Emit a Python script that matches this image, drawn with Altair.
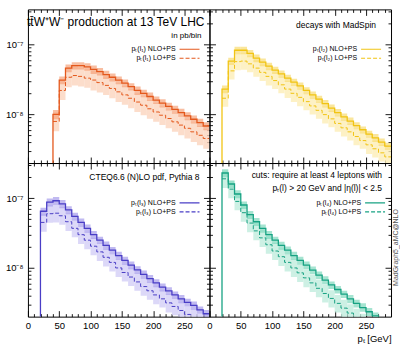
import altair as alt
import pandas as pd

# ---------------- data (values in units of 1e-8 pb/bin) ----------------
UNIT = 1e-8
BIN_WIDTH = 10
X_MAX = 290
Y_DOMAIN = [2.0e-9, 3.2e-7]

X_MAJOR = [0, 50, 100, 150, 200, 250]
X_MINOR = [10, 20, 30, 40, 60, 70, 80, 90, 110, 120, 130, 140, 160, 170, 180, 190,
           210, 220, 230, 240, 260, 270, 280]
Y_MAJOR = [1e-8, 1e-7]
Y_MINOR = [3e-9, 4e-9, 5e-9, 6e-9, 7e-9, 8e-9, 9e-9,
           2e-8, 3e-8, 4e-8, 5e-8, 6e-8, 7e-8, 8e-8, 9e-8, 2e-7, 3e-7]

# top-left: pT(l1), starts at 40 GeV
TL_START = 40
TL_NLO = [1.0, 3.1, 4.6, 5.0, 5.0, 4.8, 4.4, 4.1, 3.7, 3.4, 3.1, 2.8, 2.5, 2.2, 2.0, 1.8,
          1.6, 1.45, 1.3, 1.18, 1.06, 0.95, 0.85, 0.76, 0.68]
TL_NLO_LO = [0.85, 2.7, 4.0, 4.4, 4.4, 4.2, 3.8, 3.6, 3.2, 2.95, 2.7, 2.45, 2.2, 1.9, 1.75,
             1.55, 1.4, 1.25, 1.13, 1.02, 0.92, 0.82, 0.74, 0.66, 0.59]
TL_NLO_HI = [1.15, 3.5, 5.2, 5.6, 5.6, 5.4, 5.0, 4.6, 4.2, 3.85, 3.5, 3.15, 2.8, 2.5, 2.25,
             2.05, 1.8, 1.65, 1.47, 1.33, 1.2, 1.07, 0.96, 0.86, 0.77]
TL_LO = [0.79, 2.2, 3.4, 3.6, 3.5, 3.3, 3.1, 2.85, 2.6, 2.35, 2.1, 1.9, 1.7, 1.5, 1.35, 1.2,
         1.08, 0.97, 0.87, 0.78, 0.70, 0.63, 0.56, 0.50, 0.45]
TL_LO_LO = [0.57, 1.6, 2.45, 2.6, 2.5, 2.4, 2.2, 2.05, 1.9, 1.7, 1.5, 1.37, 1.22, 1.08, 0.97,
            0.86, 0.78, 0.70, 0.63, 0.56, 0.50, 0.45, 0.40, 0.36, 0.32]
TL_LO_HI = [1.07, 3.0, 4.6, 4.9, 4.7, 4.45, 4.2, 3.85, 3.5, 3.2, 2.85, 2.55, 2.3, 2.0, 1.8,
            1.6, 1.45, 1.3, 1.17, 1.05, 0.95, 0.85, 0.76, 0.68, 0.61]

# top-right: pT(l2), starts at 20 GeV
TR_START = 20
TR_NLO = [2.3, 5.8, 8.3, 8.3, 7.5, 6.4, 5.6, 4.9, 4.3, 3.8, 3.3, 2.9, 2.55, 2.2, 1.9, 1.65,
          1.42, 1.23, 1.06, 0.92, 0.80, 0.69, 0.60, 0.52, 0.46, 0.40, 0.35]
TR_NLO_LO = [2.0, 5.1, 7.3, 7.3, 6.6, 5.6, 4.9, 4.3, 3.8, 3.35, 2.9, 2.55, 2.25, 1.94, 1.67,
             1.45, 1.25, 1.08, 0.93, 0.81, 0.70, 0.61, 0.53, 0.46, 0.40, 0.35, 0.31]
TR_NLO_HI = [2.6, 6.5, 9.3, 9.3, 8.4, 7.2, 6.3, 5.5, 4.8, 4.25, 3.7, 3.25, 2.85, 2.45, 2.13,
             1.85, 1.6, 1.38, 1.19, 1.03, 0.90, 0.77, 0.67, 0.58, 0.52, 0.45, 0.39]
TR_LO = [1.7, 4.2, 5.7, 5.8, 5.3, 4.6, 4.0, 3.5, 3.05, 2.65, 2.3, 2.0, 1.75, 1.52, 1.32, 1.14,
         0.99, 0.86, 0.74, 0.64, 0.56, 0.48, 0.42, 0.365, 0.32, 0.28, 0.245]
TR_LO_LO = [1.28, 3.15, 4.3, 4.35, 4.0, 3.45, 3.0, 2.6, 2.3, 2.0, 1.72, 1.5, 1.31, 1.14, 0.99,
            0.86, 0.74, 0.65, 0.56, 0.48, 0.42, 0.36, 0.32, 0.27, 0.24, 0.21, 0.18]
TR_LO_HI = [2.2, 5.5, 7.4, 7.5, 6.9, 6.0, 5.2, 4.55, 4.0, 3.45, 3.0, 2.6, 2.28, 1.98, 1.72,
            1.48, 1.29, 1.12, 0.96, 0.83, 0.73, 0.62, 0.55, 0.47, 0.42, 0.36, 0.32]

# bottom-left: pT(l3), starts at 20 GeV
BL_START = 20
BL_NLO = [6.5, 8.8, 9.2, 8.3, 6.8, 5.5, 4.5, 3.7, 3.0, 2.5, 2.1, 1.8, 1.5, 1.28, 1.1, 0.94,
          0.81, 0.70, 0.61, 0.53, 0.47, 0.41, 0.36, 0.32, 0.29, 0.25, 0.22]
BL_NLO_LO = [5.6, 7.6, 8.0, 7.2, 5.9, 4.8, 3.9, 3.2, 2.6, 2.2, 1.83, 1.57, 1.3, 1.11, 0.96,
             0.82, 0.70, 0.61, 0.53, 0.46, 0.41, 0.36, 0.31, 0.28, 0.25, 0.22, 0.19]
BL_NLO_HI = [7.3, 9.9, 10.4, 9.4, 7.7, 6.2, 5.1, 4.2, 3.4, 2.8, 2.4, 2.0, 1.7, 1.45, 1.24,
             1.06, 0.92, 0.79, 0.69, 0.60, 0.53, 0.46, 0.41, 0.36, 0.33, 0.28, 0.25]
BL_LO = [4.5, 6.0, 6.1, 5.6, 4.6, 3.7, 3.0, 2.5, 2.05, 1.7, 1.42, 1.2, 1.0, 0.86, 0.74, 0.63,
         0.54, 0.47, 0.41, 0.36, 0.315, 0.28, 0.245, 0.215, 0.19, 0.17, 0.15]
BL_LO_LO = [3.3, 4.45, 4.5, 4.15, 3.4, 2.75, 2.2, 1.85, 1.52, 1.26, 1.05, 0.89, 0.74, 0.64,
            0.55, 0.47, 0.40, 0.35, 0.30, 0.27, 0.23, 0.21, 0.18, 0.16, 0.14, 0.126, 0.11]
BL_LO_HI = [5.9, 7.9, 8.0, 7.4, 6.1, 4.9, 4.0, 3.3, 2.7, 2.25, 1.87, 1.58, 1.32, 1.14, 0.98,
            0.83, 0.71, 0.62, 0.54, 0.48, 0.42, 0.37, 0.32, 0.28, 0.25, 0.22, 0.20]

# bottom-right: pT(l4), starts at 20 GeV
BR_START = 20
BR_NLO = [23, 16, 11.5, 8.0, 5.8, 4.6, 3.7, 3.0, 2.5, 2.1, 1.8, 1.5, 1.28, 1.1, 0.93, 0.79,
          0.67, 0.57, 0.49, 0.42, 0.36, 0.31, 0.27, 0.235, 0.205, 0.18, 0.16]
BR_NLO_LO = [20, 14, 10, 7.0, 5.05, 4.0, 3.2, 2.6, 2.2, 1.83, 1.57, 1.3, 1.11, 0.96, 0.81,
             0.69, 0.58, 0.50, 0.43, 0.37, 0.31, 0.27, 0.235, 0.205, 0.18, 0.157, 0.14]
BR_NLO_HI = [26, 18, 13, 9.0, 6.55, 5.2, 4.2, 3.4, 2.8, 2.37, 2.03, 1.7, 1.45, 1.24, 1.05,
             0.89, 0.76, 0.64, 0.55, 0.47, 0.41, 0.35, 0.31, 0.265, 0.23, 0.20, 0.18]
BR_LO = [19, 13.5, 9.0, 6.2, 4.4, 3.4, 2.7, 2.15, 1.75, 1.45, 1.2, 1.0, 0.85, 0.72, 0.61, 0.51,
         0.43, 0.365, 0.31, 0.265, 0.225, 0.195, 0.165, 0.142, 0.122, 0.105, 0.09]
BR_LO_LO = [14, 10, 6.7, 4.6, 3.25, 2.5, 2.0, 1.6, 1.3, 1.07, 0.89, 0.74, 0.63, 0.53, 0.45,
            0.38, 0.32, 0.27, 0.23, 0.196, 0.167, 0.144, 0.122, 0.105, 0.09, 0.078, 0.067]
BR_LO_HI = [25, 17.8, 11.9, 8.2, 5.8, 4.5, 3.55, 2.85, 2.3, 1.9, 1.58, 1.32, 1.12, 0.95, 0.8,
            0.67, 0.57, 0.48, 0.41, 0.35, 0.30, 0.26, 0.22, 0.19, 0.16, 0.14, 0.12]

# ---------------- styling ----------------
W, H = 182, 154
FONT = "Liberation Sans"

PANELS = {
    "tl": dict(start=TL_START, nlo=TL_NLO, nlo_lo=TL_NLO_LO, nlo_hi=TL_NLO_HI,
               lo=TL_LO, lo_lo=TL_LO_LO, lo_hi=TL_LO_HI,
               line="#E4581C", nlo_band="#F5A27A", lo_band="#FBD4BE", lep="₁",
               texts=[("tt̄W⁺W⁻ production at 13 TeV LHC", 88, 13, "center", 12, 0),
                      ("in pb/bin", 174, 27, "right", 8, 0)],
               leg_x=148),
    "tr": dict(start=TR_START, nlo=TR_NLO, nlo_lo=TR_NLO_LO, nlo_hi=TR_NLO_HI,
               lo=TR_LO, lo_lo=TR_LO_LO, lo_hi=TR_LO_HI,
               line="#F1C413", nlo_band="#F8DB72", lo_band="#FCEDB6", lep="₂",
               texts=[("decays with MadSpin", 167, 16, "right", 8.5, 0)],
               leg_x=148),
    "bl": dict(start=BL_START, nlo=BL_NLO, nlo_lo=BL_NLO_LO, nlo_hi=BL_NLO_HI,
               lo=BL_LO, lo_lo=BL_LO_LO, lo_hi=BL_LO_HI,
               line="#4A3EC6", nlo_band="#A69CEB", lo_band="#D3CEF6", lep="₃",
               texts=[("CTEQ6.6 (N)LO pdf, Pythia 8", 172, 14, "right", 8.5, 0)],
               leg_x=148),
    "br": dict(start=BR_START, nlo=BR_NLO, nlo_lo=BR_NLO_LO, nlo_hi=BR_NLO_HI,
               lo=BR_LO, lo_lo=BR_LO_LO, lo_hi=BR_LO_HI,
               line="#17A283", nlo_band="#80D8BE", lo_band="#C0ECDD", lep="₄",
               texts=[("cuts: require at least 4 leptons with", 173, 12, "right", 8.5, 0),
                      ("pₜ(l) > 20 GeV and |η(l)| < 2.5", 173, 25, "right", 8.5, 0)],
               leg_x=152),
}

xscale = alt.Scale(domain=[0, X_MAX], nice=False, zero=False)
yscale = alt.Scale(type="log", domain=Y_DOMAIN, nice=False)
one = pd.DataFrame({"x": [X_MAX / 2], "y": [1e-8]})


def tick_layer(xorient, yorient, xvals, yvals, size):
    common = dict(labels=False, domain=False, grid=False, tickColor="black",
                  tickWidth=0.9, tickSize=size)
    return alt.Chart(one).mark_point(opacity=0).encode(
        x=alt.X("x:Q", scale=xscale, title=None,
                axis=alt.Axis(orient=xorient, offset=-H, values=xvals, **common)),
        y=alt.Y("y:Q", scale=yscale, title=None,
                axis=alt.Axis(orient=yorient, offset=-W, values=yvals, **common)),
    )


def panel(p, show_x, show_y, x_title=None, watermark=False):
    n = len(p["nlo"])
    edges = [p["start"] + BIN_WIDTH * i for i in range(n + 1)]
    band = pd.DataFrame({
        "x": edges[:-1], "x2": edges[1:],
        "nlo_lo": [v * UNIT for v in p["nlo_lo"]], "nlo_hi": [v * UNIT for v in p["nlo_hi"]],
        "lo_lo": [v * UNIT for v in p["lo_lo"]], "lo_hi": [v * UNIT for v in p["lo_hi"]],
    })

    def step(vals, floor):
        xs = ([edges[0]] if floor else []) + list(edges)
        ys = ([Y_DOMAIN[0]] if floor else []) + [v * UNIT for v in vals] + [vals[-1] * UNIT]
        return pd.DataFrame({"x": xs, "y": ys, "i": list(range(len(xs)))})

    if show_x:
        xa = alt.Axis(values=X_MAJOR, ticks=False, domain=False, grid=False, labelFlush=False,
                      labelPadding=4, labelFontSize=9.5, labelFont=FONT, labelColor="black",
                      titleFont=FONT, titleFontSize=9.5, titleFontWeight="normal",
                      titleColor="black", titleAnchor="end", titlePadding=3)
    else:
        xa = None
    if show_y:
        ya = alt.Axis(values=Y_MAJOR, ticks=False, domain=False, grid=False, labelPadding=5,
                      labelFontSize=9.5, labelFont=FONT, labelColor="black",
                      labelExpr="datum.value > 5e-8 ? '10⁻⁷' : '10⁻⁸'")
    else:
        ya = None

    lo_band = alt.Chart(band).mark_rect(color=p["lo_band"], opacity=0.8, clip=True).encode(
        x=alt.X("x:Q", scale=xscale, axis=xa, title=x_title),
        x2="x2:Q",
        y=alt.Y("lo_lo:Q", scale=yscale, axis=ya, title=None),
        y2="lo_hi:Q",
    )
    nlo_band = alt.Chart(band).mark_rect(color=p["nlo_band"], opacity=0.7, clip=True).encode(
        x=alt.X("x:Q", scale=xscale, axis=None),
        x2="x2:Q",
        y=alt.Y("nlo_lo:Q", scale=yscale, axis=None),
        y2="nlo_hi:Q",
    )
    lo_line = alt.Chart(step(p["lo"], False)).mark_line(
        interpolate="step-after", color=p["line"], strokeWidth=1, strokeDash=[4, 2], clip=True
    ).encode(
        x=alt.X("x:Q", scale=xscale, axis=None),
        y=alt.Y("y:Q", scale=yscale, axis=None),
        order="i:Q",
    )
    nlo_line = alt.Chart(step(p["nlo"], True)).mark_line(
        interpolate="step-after", color=p["line"], strokeWidth=1.3, clip=True
    ).encode(
        x=alt.X("x:Q", scale=xscale, axis=None),
        y=alt.Y("y:Q", scale=yscale, axis=None),
        order="i:Q",
    )

    layers = [lo_band, nlo_band, lo_line, nlo_line]

    for txt, tx, ty, align, size, ang in p["texts"]:
        layers.append(alt.Chart(one).mark_text(
            text=txt, align=align, baseline="middle", font=FONT, fontSize=size, color="black"
        ).encode(x=alt.value(tx), y=alt.value(ty)))

    lx = p["leg_x"]
    for row, (lab, dash) in enumerate([("NLO+PS", [1, 0]), ("LO+PS", [4, 2])]):
        ly = 40 + 9 * row
        layers.append(alt.Chart(one).mark_text(
            text=f"pₜ(l{p['lep']}) {lab}", align="right", baseline="middle", font=FONT,
            fontSize=7, color="black"
        ).encode(x=alt.value(lx), y=alt.value(ly)))
        layers.append(alt.Chart(one).mark_rule(
            color=p["line"], strokeWidth=1.1, strokeDash=dash
        ).encode(x=alt.value(lx + 4), x2=alt.value(lx + 24), y=alt.value(ly)))

    if watermark:
        layers.append(alt.Chart(one).mark_text(
            text="MadGraph5_aMC@NLO", align="center", baseline="bottom", angle=270,
            font=FONT, fontSize=7, color="#555555"
        ).encode(x=alt.value(W + 8), y=alt.value(H * 0.55)))

    layers += [
        tick_layer("top", "right", X_MAJOR, Y_MAJOR, 6),
        tick_layer("top", "right", X_MINOR, Y_MINOR, 3),
        tick_layer("bottom", "left", X_MAJOR, Y_MAJOR, 6),
        tick_layer("bottom", "left", X_MINOR, Y_MINOR, 3),
    ]
    return alt.layer(*layers).resolve_axis(x="independent", y="independent").properties(
        width=W, height=H)


tl = panel(PANELS["tl"], False, True)
tr = panel(PANELS["tr"], False, False)
bl = panel(PANELS["bl"], True, True)
br = panel(PANELS["br"], True, False, x_title="pₜ [GeV]", watermark=True)

chart = alt.concat(tl, tr, bl, br, columns=2, spacing=0, bounds="flush").properties(
    padding={"left": 4, "top": 8, "right": 0, "bottom": 0},
    background="white",
).configure_view(stroke="black", strokeWidth=1)

chart.save("out.html", embed_options={"renderer": "svg", "actions": False})
